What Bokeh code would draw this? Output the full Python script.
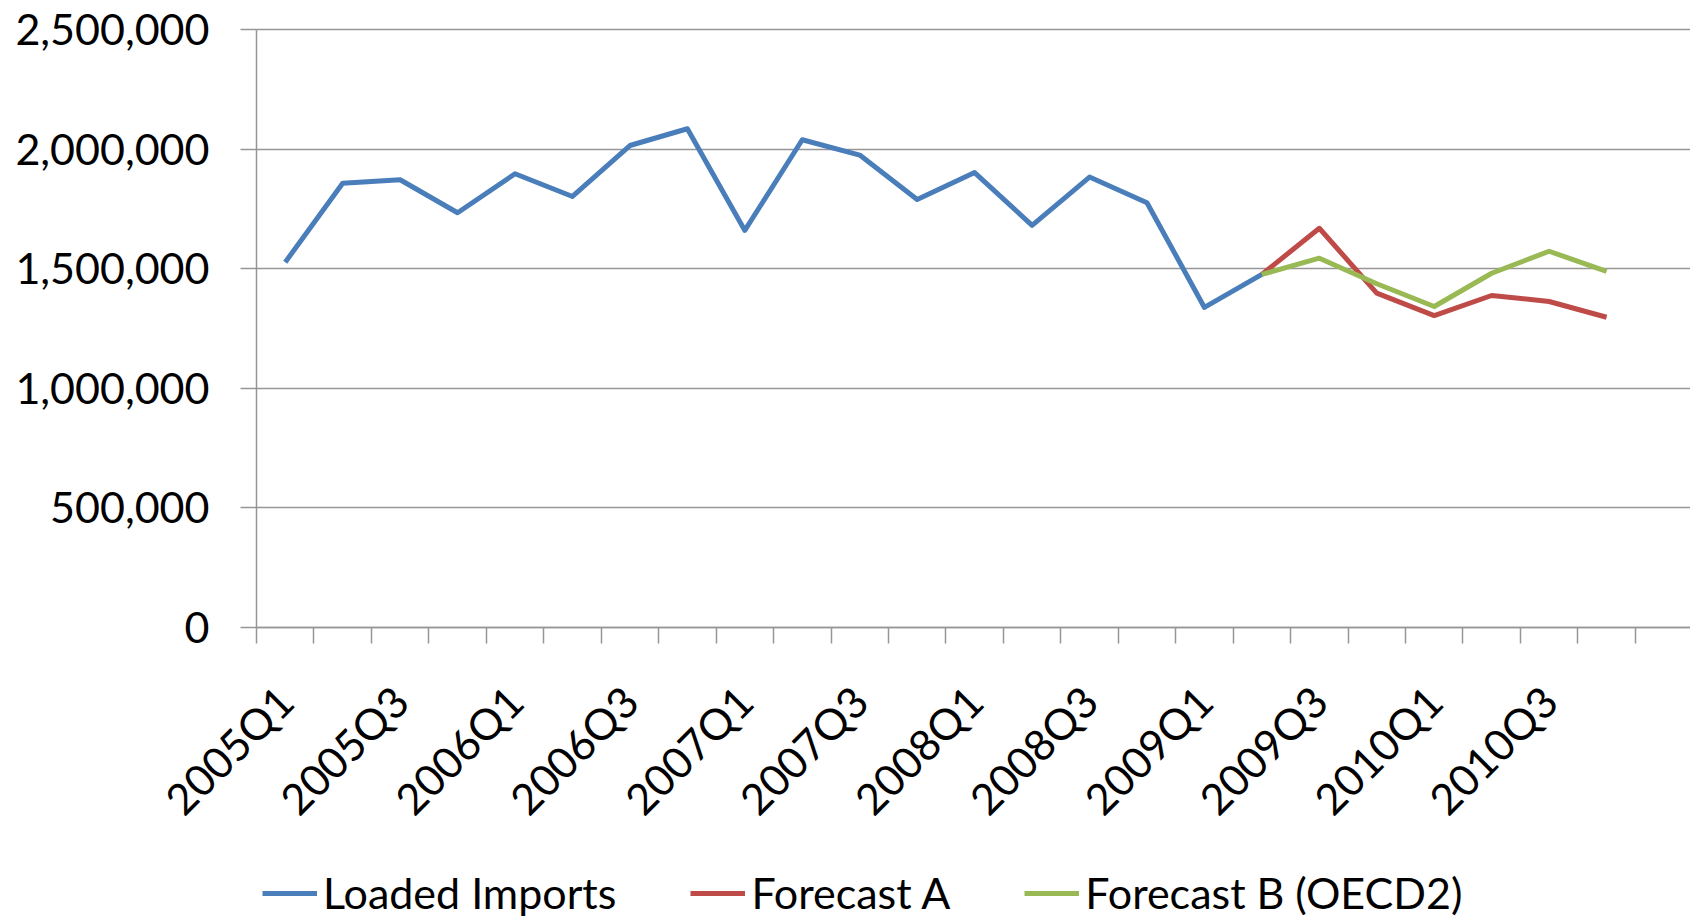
from bokeh.plotting import figure
from bokeh.models import (Range1d, FixedTicker, NumeralTickFormatter, Legend,
                          LegendItem, ColumnDataSource, Grid)
from bokeh.embed import file_html
from bokeh.resources import INLINE

# ---- data ----
quarters = [f"{y}Q{q}" for y in range(2005, 2011) for q in range(1, 5)]
loaded_imports = [1527000, 1857000, 1872000, 1734000, 1897000, 1802000,
                  2015000, 2085000, 1660000, 2039000, 1975000, 1789000,
                  1902000, 1681000, 1883000, 1776000, 1338000, 1476000]
forecast_a = [1476000, 1669000, 1398000, 1304000, 1388000, 1363000, 1297000]
forecast_b = [1476000, 1544000, 1437000, 1342000, 1481000, 1573000, 1489000]
forecast_start = 17  # index of 2009Q2
y_ticks = [0, 500000, 1000000, 1500000, 2000000, 2500000]

FONT = "Lato"
FS = "43px"
GRID = "#969696"
LW = 5

# ---- layout constants (figure pixels) ----
W, H = 1690, 918
ORIGIN_X = 256          # where category 0 starts (y axis)
ZERO_Y = 627            # where value 0 lies
TOP_Y = 29              # where the top tick value lies
PX_PER_CAT = 57.45
YMAX_TICK = y_ticks[-1]
PX_PER_VAL = (ZERO_Y - TOP_Y) / YMAX_TICK

X_START = -ORIGIN_X / PX_PER_CAT
X_END = (W - ORIGIN_X) / PX_PER_CAT
Y_START = -(H - ZERO_Y) / PX_PER_VAL
Y_END = YMAX_TICK + TOP_Y / PX_PER_VAL

x_all = [i + 0.5 for i in range(len(quarters))]
src_loaded = ColumnDataSource(dict(x=x_all[:len(loaded_imports)], y=loaded_imports))
src_a = ColumnDataSource(dict(x=x_all[forecast_start:forecast_start + len(forecast_a)], y=forecast_a))
src_b = ColumnDataSource(dict(x=x_all[forecast_start:forecast_start + len(forecast_b)], y=forecast_b))

p = figure(width=W, height=H, output_backend="svg", toolbar_location=None,
           x_range=Range1d(X_START, X_END), y_range=Range1d(Y_START, Y_END),
           min_border=0)
p.outline_line_color = None
p.background_fill_color = "white"
p.border_fill_color = "white"

# x axis pinned at zero: category boundaries as minor ticks, labels every 2nd quarter
label_idx = list(range(0, len(quarters), 2))
p.xaxis.fixed_location = 0
p.xaxis.bounds = (0, X_END)
p.xaxis.ticker = FixedTicker(ticks=[x_all[i] for i in label_idx],
                             minor_ticks=list(range(len(quarters) + 1)))
p.xaxis.major_label_overrides = {x_all[i]: quarters[i] for i in label_idx}
p.xaxis.major_label_orientation = 0.785398
p.xaxis.major_tick_line_color = None
p.xaxis.major_tick_out = 16
p.xaxis.major_tick_in = 0
p.xaxis.minor_tick_out = 16
p.xaxis.minor_tick_in = 0
p.xaxis.minor_tick_line_color = GRID
p.xaxis.minor_tick_line_width = 1.5
p.xaxis.axis_line_color = GRID
p.xaxis.axis_line_width = 1.5
p.xaxis.major_label_standoff = 50
p.xgrid.grid_line_color = None

# y axis pinned at the first category boundary
p.yaxis.fixed_location = 0
p.yaxis.ticker = FixedTicker(ticks=y_ticks, minor_ticks=[])
p.yaxis.bounds = (0, YMAX_TICK)
p.yaxis.formatter = NumeralTickFormatter(format="0,0")
p.yaxis.major_tick_out = 16
p.yaxis.major_tick_in = 0
p.yaxis.major_tick_line_color = GRID
p.yaxis.major_tick_line_width = 1.5
p.yaxis.minor_tick_line_color = None
p.yaxis.axis_line_color = GRID
p.yaxis.axis_line_width = 1.5
p.yaxis.major_label_standoff = 31

for ax in (p.xaxis, p.yaxis):
    ax.major_label_text_font = FONT
    ax.major_label_text_font_size = FS
    ax.major_label_text_color = "black"

# horizontal grid lines, only to the right of the y axis
ygrid = p.ygrid[0]
if "cross_bounds" in Grid.properties():
    ygrid.ticker = FixedTicker(ticks=y_ticks)
    ygrid.cross_bounds = (0, X_END)
    ygrid.grid_line_color = GRID
    ygrid.grid_line_width = 1.5
else:
    ygrid.grid_line_color = None
    grid_src = ColumnDataSource(dict(x0=[0] * len(y_ticks), x1=[X_END] * len(y_ticks),
                                     y=y_ticks))
    p.segment(x0="x0", x1="x1", y0="y", y1="y", source=grid_src,
              line_color=GRID, line_width=1.5, level="underlay")

r1 = p.line("x", "y", source=src_loaded, line_color="#4a7ebb", line_width=LW, line_join="round")
r2 = p.line("x", "y", source=src_a, line_color="#be4b48", line_width=LW, line_join="round")
r3 = p.line("x", "y", source=src_b, line_color="#98b954", line_width=LW, line_join="round")

legend = Legend(items=[LegendItem(label="Loaded Imports", renderers=[r1]),
                       LegendItem(label="Forecast A", renderers=[r2]),
                       LegendItem(label="Forecast B (OECD2)", renderers=[r3])],
                orientation="horizontal", location=(ORIGIN_X + 6, 0),
                glyph_width=55, glyph_height=50, label_height=50,
                label_standoff=6, spacing=74,
                padding=0, margin=0, border_line_color=None,
                background_fill_alpha=0,
                label_text_font=FONT, label_text_font_size=FS,
                label_text_color="black")
p.add_layout(legend, "center")

open("out.html", "w").write(file_html(p, INLINE))
